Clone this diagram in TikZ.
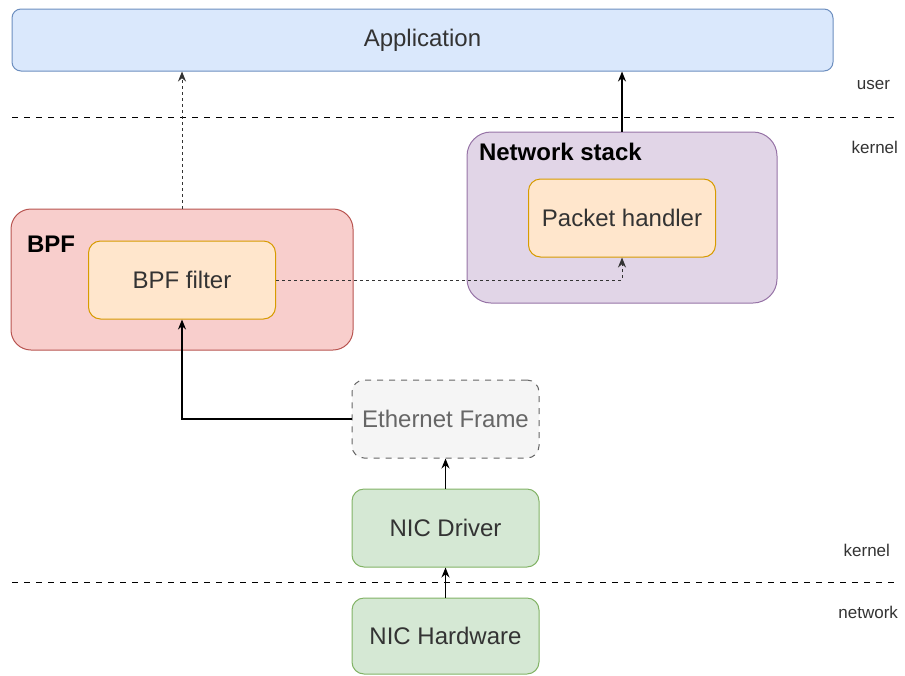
\documentclass[tikz,border=0pt]{standalone}
\usepackage{fontspec}
\setmainfont{Liberation Sans}
\usepackage{tikz}
\usetikzlibrary{arrows.meta}

\definecolor{appfill}{HTML}{DAE8FC}
\definecolor{appline}{HTML}{6C8EBF}
\definecolor{stackfill}{HTML}{E1D5E7}
\definecolor{stackline}{HTML}{9673A6}
\definecolor{handfill}{HTML}{FFE6CC}
\definecolor{handline}{HTML}{D79B00}
\definecolor{bpffill}{HTML}{F8CECC}
\definecolor{bpfline}{HTML}{B85450}
\definecolor{nicfill}{HTML}{D5E8D4}
\definecolor{nicline}{HTML}{82B366}
\definecolor{framefill}{HTML}{F5F5F5}
\definecolor{frameline}{HTML}{666666}
\definecolor{txt}{HTML}{333333}

\tikzset{
  box/.style={draw, line width=0.5pt, rounded corners=6pt, text=txt,
    font=\fontsize{12}{14}\selectfont, minimum width=93.5pt, minimum height=39pt},
  layer/.style={font=\fontsize{8.5}{10}\selectfont, text=txt, anchor=east},
  title/.style={font=\bfseries\fontsize{12}{14}\selectfont, anchor=north west},
  sep/.style={dashed, line width=0.5pt},
  flow/.style={-{Stealth[length=5pt,width=4pt]}, line width=0.6pt},
  tap/.style={-{Stealth[length=5pt,width=4pt]}, line width=0.5pt, txt,
    dash pattern=on 1.5pt off 1.5pt}
}

\begin{document}
\begin{tikzpicture}[x=0.5pt, y=-0.5pt]
  \useasboundingbox (0,0) rectangle (905,675);

  % Application
  \node[box, fill=appfill, draw=appline, rounded corners=4.5pt,
    minimum width=410.5pt, minimum height=31pt] (app) at (422.5,40) {Application};

  % Layers
  \draw[sep] (12,117) -- (895,117);
  \draw[sep] (12,582) -- (895,582);
  \node[layer] (user) at (897,85) {user};
  \node[layer] (kern1) at (905,147) {kernel};
  \node[layer] (kern2) at (897,550) {kernel};
  \node[layer] (net) at (905,612) {network};

  % Network stack
  \node[box, fill=stackfill, draw=stackline, rounded corners=12pt,
    minimum width=155pt, minimum height=85.5pt] (stack) at (622,217.5) {};
  \node[title] (stacklbl) at (472,136) {Network stack};
  \node[box, fill=handfill, draw=handline] (handler) at (622,218) {Packet handler};

  % BPF
  \node[box, fill=bpffill, draw=bpfline, rounded corners=10pt,
    minimum width=171pt, minimum height=70.5pt] (bpf) at (182,279.5) {};
  \node[title] (bpflbl) at (20,229) {BPF};
  \node[box, fill=handfill, draw=handline] (filter) at (182,280) {BPF filter};

  % NIC side
  \node[box, fill=framefill, draw=frameline, dashed, text=frameline] (frame) at (445.5,419) {Ethernet Frame};
  \node[box, fill=nicfill, draw=nicline] (driver) at (445.5,528) {NIC Driver};
  \node[box, fill=nicfill, draw=nicline, minimum height=38pt] (hw) at (445.5,636) {NIC Hardware};

  % Arrows
  \draw[flow] (hw) -- (driver);
  \draw[flow] (driver) -- (frame);
  \draw[flow] (frame.west) -| (filter.south);
  \draw[flow] (stack.north) -- (stack.north |- app.south);
  \draw[tap] (bpf.north) -- (bpf.north |- app.south);
  \draw[tap] (filter.east) -| (handler.south);
\end{tikzpicture}
\end{document}
